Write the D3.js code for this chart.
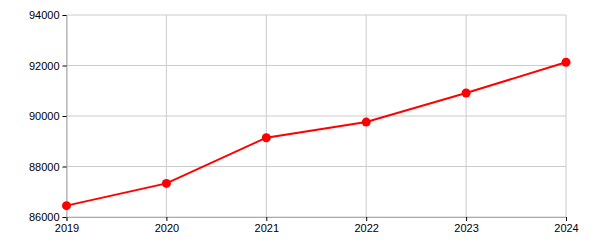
<!DOCTYPE html>
<html>
<head>
<meta charset="utf-8">
<script src="https://cdn.jsdelivr.net/npm/d3@7"></script>
<style>
  body { margin: 0; background: #fff; }
  .axis text { font-family: "Liberation Sans", Arial, sans-serif; font-size: 11px; fill: #000; }
</style>
</head>
<body>
<div id="chart"></div>
<script>
// Chart data
const years = [2019, 2020, 2021, 2022, 2023, 2024];
const values = [86450, 87330, 89140, 89760, 90910, 92130];
const yTicks = [86000, 88000, 90000, 92000, 94000];

const margin = { top: 15, right: 34, bottom: 33, left: 66.5 };
const width = 600 - margin.left - margin.right;
const height = 250 - margin.top - margin.bottom;

const x = d3.scaleLinear().domain([2019, 2024]).range([0, width]);
const y = d3.scaleLinear().domain([86000, 94000]).range([height, 0]);

const svg = d3.select("#chart")
  .append("svg")
  .attr("width", 600)
  .attr("height", 250)
  .append("g")
  .attr("transform", `translate(${margin.left},${margin.top})`);

// Gridlines
svg.selectAll(".xGrid")
  .data(years)
  .join("line")
  .attr("x1", d => x(d))
  .attr("x2", d => x(d))
  .attr("y1", 0)
  .attr("y2", height)
  .attr("stroke", "#ccc")
  .attr("stroke-width", 1);

svg.selectAll(".yGrid")
  .data(yTicks)
  .join("line")
  .attr("x1", 0)
  .attr("x2", width)
  .attr("y1", d => y(d))
  .attr("y2", d => y(d))
  .attr("stroke", "#ccc")
  .attr("stroke-width", 1);

// Axes
svg.append("g")
  .attr("class", "axis")
  .attr("transform", `translate(0,${height})`)
  .call(d3.axisBottom(x).tickValues(years).tickFormat(d3.format("d")).tickSizeOuter(0).tickSize(4))
  .call(g => g.select(".domain").attr("stroke", "#aaa"))
  .call(g => g.selectAll(".tick line").attr("stroke", "#000"));

svg.append("g")
  .attr("class", "axis")
  .call(d3.axisLeft(y).tickValues(yTicks).tickFormat(d3.format("d")).tickSizeOuter(0).tickSize(4))
  .call(g => g.select(".domain").attr("stroke", "#aaa"))
  .call(g => g.selectAll(".tick line").attr("stroke", "#000"));

// Line
const line = d3.line()
  .x((d, i) => x(years[i]))
  .y(d => y(d));

svg.append("path")
  .datum(values)
  .attr("fill", "none")
  .attr("stroke", "#ff0000")
  .attr("stroke-width", 2)
  .attr("d", line);

svg.selectAll(".dot")
  .data(values)
  .join("circle")
  .attr("cx", (d, i) => x(years[i]))
  .attr("cy", d => y(d))
  .attr("r", 4.5)
  .attr("fill", "#ff0000");
</script>
</body>
</html>
